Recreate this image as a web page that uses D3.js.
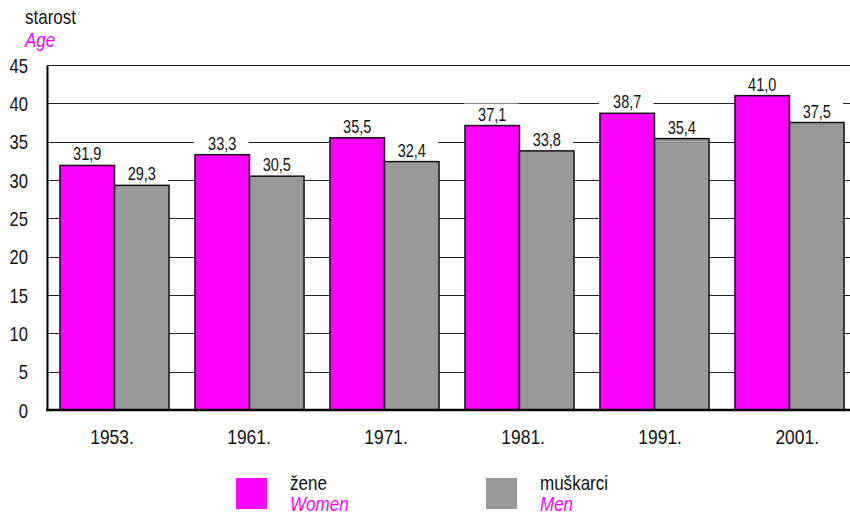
<!DOCTYPE html>
<html><head><meta charset="utf-8">
<script src="https://cdn.jsdelivr.net/npm/d3@7"></script>
<style>
body{margin:0;background:#fff;}
svg{display:block;font-family:"Liberation Sans",Arial,sans-serif;}
</style></head>
<body><svg id="c" width="850" height="514"></svg>
<script>
const categories = ["1953.","1961.","1971.","1981.","1991.","2001."];
const women = [31.9,33.3,35.5,37.1,38.7,41.0];
const men = [29.3,30.5,32.4,33.8,35.4,37.5];
const yTicks = [0,5,10,15,20,25,30,35,40,45];
const seriesNames = [["žene","Women"],["muškarci","Men"]];
const colors = ["#ff00ff","#999999"];

const SX = 0.83; // horizontal condensing (narrow face look)
const svg = d3.select("#c");
const mLeft = 47, mRight = 857, mTop = 65, mBottom = 410;
const x = d3.scaleBand().domain(categories).range([mLeft,mRight]).paddingInner(0.192).paddingOuter(0.096);
const x1 = d3.scaleBand().domain([0,1]).range([0,x.bandwidth()]);
const xLab = d3.scalePoint().domain(categories).range([111.5,796.7]);
const y = d3.scaleLinear().domain([0,45]).range([mBottom,mTop]);
const fmt = v => v.toFixed(1).replace(".",",");

function label(parent, tx, ty, txt, size, opts={}) {
  const t = parent.append("text")
    .attr("transform",`translate(${tx},${ty}) scale(${SX},1)`)
    .attr("font-size",size).attr("fill",opts.fill||"#111")
    .attr("text-anchor",opts.anchor||"start").text(txt);
  if (opts.italic) t.attr("font-style","italic");
  return t;
}

// gridlines
svg.append("g").selectAll("line").data(yTicks.filter(t=>t>0)).join("line")
  .attr("x1",mLeft).attr("x2",850).attr("y1",d=>Math.round(y(d))+0.5).attr("y2",d=>Math.round(y(d))+0.5)
  .attr("stroke","#222").attr("stroke-width",1);

const data = [women, men];
const g = svg.append("g");
data.forEach((arr,si)=>{
  g.selectAll(null).data(arr).join("rect")
    .attr("x",(d,i)=>x(categories[i])+x1(si)-1)
    .attr("width",x1.bandwidth())
    .attr("y",d=>y(d)-22).attr("height",20).attr("fill","#fff");
});
data.forEach((arr,si)=>{
  g.selectAll(null).data(arr).join("rect")
    .attr("x",(d,i)=>x(categories[i])+x1(si))
    .attr("width",x1.bandwidth())
    .attr("y",d=>y(d)).attr("height",d=>mBottom-y(d))
    .attr("fill",colors[si]).attr("stroke","#111").attr("stroke-width",1.5);
  g.selectAll(null).data(arr).join("text")
    .attr("transform",(d,i)=>`translate(${x(categories[i])+x1(si)+x1.bandwidth()/2},${y(d)-5}) scale(${SX},1)`)
    .attr("text-anchor","middle").attr("font-size",17.5).attr("fill","#111")
    .text(fmt);
});

// axes
const yAxis = d3.axisLeft(y).tickValues(yTicks).tickSize(0).tickPadding(19/SX);
const ya = svg.append("g").attr("transform",`translate(${mLeft},0)`).call(yAxis);
ya.select(".domain").attr("stroke","#000").attr("stroke-width",2);
ya.selectAll("text").attr("font-size",20).attr("fill","#111").attr("font-family","Liberation Sans, Arial, sans-serif")
  .attr("dy","0.36em").attr("transform",`scale(${SX},1)`);

const xAxis = d3.axisBottom(xLab).tickSize(0).tickPadding(19);
const xa = svg.append("g").attr("transform",`translate(0,${mBottom})`).call(xAxis);
xa.select(".domain").remove();
xa.selectAll("text").attr("font-size",21).attr("fill","#111").attr("font-family","Liberation Sans, Arial, sans-serif")
  .attr("transform",`scale(${SX},1)`);
svg.append("line").attr("x1",mLeft-1).attr("x2",850).attr("y1",mBottom).attr("y2",mBottom).attr("stroke","#000").attr("stroke-width",2.5);

// title
label(svg,25,23.5,"starost",20.5);
label(svg,25,46.5,"Age",20.5,{italic:true,fill:"#ff00ff"});

// legend
const lx = [236,486];
seriesNames.forEach((n,i)=>{
  svg.append("rect").attr("x",lx[i]).attr("y",478).attr("width",31).attr("height",31).attr("fill",colors[i]);
  label(svg,lx[i]+54,490,n[0],20.5);
  label(svg,lx[i]+54,511,n[1],20.5,{italic:true,fill:"#ff00ff"});
});
</script></body></html>
